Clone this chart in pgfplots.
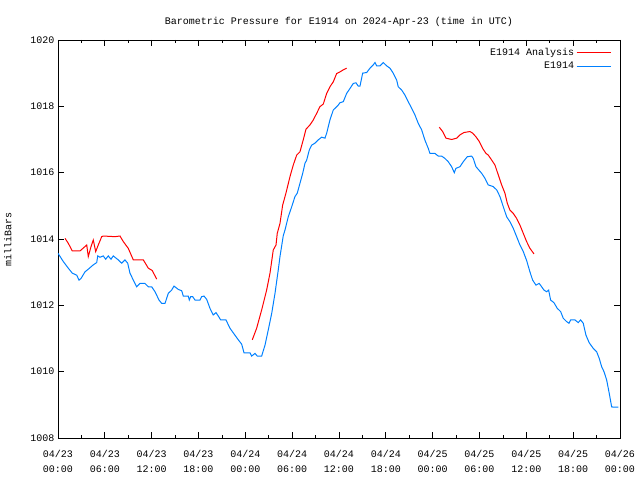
\documentclass[border=0pt]{standalone}
\usepackage{pgfplots}
\pgfplotsset{compat=1.18}
\usepackage{fontspec}
\setmainfont{Liberation Mono}
\definecolor{obsblue}{RGB}{0,128,255}

\begin{document}
\fontsize{10}{11}\selectfont
\begin{tikzpicture}
	\path[use as bounding box] (-58pt,-42pt) rectangle (582pt,438pt);
	\begin{axis}[
		at={(0,0)}, anchor=south west,
		scale only axis,
		width=562pt,
		height=398pt,
		xmin=0, xmax=72,
		ymin=1008, ymax=1020,
		xtick={0,6,...,72},
		xticklabels={04/23\\00:00,04/23\\06:00,04/23\\12:00,04/23\\18:00,04/24\\00:00,04/24\\06:00,04/24\\12:00,04/24\\18:00,04/25\\00:00,04/25\\06:00,04/25\\12:00,04/25\\18:00,04/26\\00:00},
		minor x tick num=1,
		ytick={1008,1010,...,1020},
		tick align=inside,
		major tick length=6pt,
		minor tick length=3pt,
		tick style={black, line width=0.8pt},
		axis line style={line width=0.8pt},
		x tick label style={align=center, font=\fontsize{10}{15}\selectfont, yshift=-9pt},
		y tick label style={font=\fontsize{10}{11}\selectfont},
		/pgf/number format/assume math mode=true,
		/pgf/number format/1000 sep={},
		title={Barometric Pressure for E1914 on 2024-Apr-23 (time in UTC)},
		title style={font=\fontsize{10}{11}\selectfont, yshift=4pt},
		ylabel={milliBars},
		ylabel style={font=\fontsize{10}{11}\selectfont, yshift=12pt},
		unbounded coords=jump,
		legend plot pos=right,
		legend cell align=right,
		legend style={draw=none, fill=none, at={(0.99,0.99)}, anchor=north east,
			font=\fontsize{10}{11}\selectfont, row sep=1pt},
	]
	\addplot[red, line width=1pt,
		legend image code/.code={\draw[red, line width=1pt] (0pt,0pt) -- (34pt,0pt);}] coordinates {
		(0.90,1014.02) (1.32,1013.87) (1.83,1013.64) (2.82,1013.64) (3.68,1013.82) (3.88,1013.47)
		(4.23,1013.77) (4.52,1013.97) (4.83,1013.62) (5.16,1013.82) (5.60,1014.07) (5.80,1014.09)
		(7.30,1014.07) (7.94,1014.09) (8.37,1013.92) (9.00,1013.72) (9.65,1013.37) (10.93,1013.37)
		(11.57,1013.12) (12.08,1013.05) (12.64,1012.79)
		(18.0,nan)
		(24.89,1010.96) (25.45,1011.31) (26.09,1011.86) (26.73,1012.46) (27.16,1012.97) (27.58,1013.67)
		(27.93,1013.82) (28.09,1014.17) (28.44,1014.47) (28.78,1015.02) (29.20,1015.38) (29.72,1015.88)
		(30.14,1016.23) (30.58,1016.53) (31.00,1016.63) (31.42,1016.99) (31.77,1017.31) (32.28,1017.44)
		(32.71,1017.59) (33.14,1017.79) (33.56,1017.99) (33.99,1018.07) (34.42,1018.39) (34.84,1018.59)
		(35.27,1018.74) (35.70,1018.99) (36.13,1019.04) (36.55,1019.10) (36.98,1019.15)
		(42.0,nan)
		(48.85,1017.37) (49.28,1017.24) (49.71,1017.04) (50.43,1017.00) (51.07,1017.04) (51.50,1017.14)
		(52.01,1017.21) (52.78,1017.24) (53.13,1017.19) (53.55,1017.08) (53.97,1016.94) (54.41,1016.73)
		(54.83,1016.58) (55.12,1016.53) (55.56,1016.38) (55.98,1016.23) (56.41,1015.93) (56.84,1015.63)
		(57.26,1015.38) (57.56,1015.08) (57.90,1014.87) (58.33,1014.77) (58.76,1014.62) (59.18,1014.42)
		(59.61,1014.17) (60.04,1013.92) (60.46,1013.72) (60.98,1013.55)
	};
	\addlegendentry{E1914 Analysis}
	\addplot[obsblue, line width=1pt,
		legend image code/.code={\draw[obsblue, line width=1pt] (0pt,0pt) -- (34pt,0pt);}] coordinates {
		(0.00,1013.57) (0.68,1013.32) (1.32,1013.12) (1.83,1012.97) (2.40,1012.91) (2.69,1012.76)
		(2.95,1012.81) (3.46,1013.01) (3.88,1013.09) (4.52,1013.22) (4.96,1013.29) (5.09,1013.49)
		(5.38,1013.45) (5.80,1013.49) (6.11,1013.39) (6.44,1013.49) (6.79,1013.39) (7.08,1013.49)
		(7.72,1013.37) (8.16,1013.27) (8.58,1013.37) (8.93,1013.27) (9.22,1012.97) (9.65,1012.76)
		(10.08,1012.56) (10.50,1012.66) (11.14,1012.66) (11.57,1012.56) (12.00,1012.56) (12.43,1012.41)
		(12.94,1012.16) (13.28,1012.06) (13.71,1012.06) (14.13,1012.36) (14.56,1012.46) (14.86,1012.58)
		(15.41,1012.48) (15.85,1012.44) (16.05,1012.28) (16.69,1012.28) (16.82,1012.16) (17.00,1012.26)
		(17.26,1012.26) (17.55,1012.16) (18.19,1012.16) (18.41,1012.26) (18.70,1012.28) (19.05,1012.18)
		(19.47,1011.91) (19.89,1011.71) (20.24,1011.78) (20.53,1011.68) (20.84,1011.56) (21.52,1011.56)
		(22.03,1011.31) (22.67,1011.10) (23.10,1010.96) (23.53,1010.83) (23.83,1010.57) (24.60,1010.57)
		(24.81,1010.47) (25.24,1010.55) (25.53,1010.47) (26.09,1010.47) (26.52,1010.80) (26.94,1011.26)
		(27.38,1011.76) (27.80,1012.36) (28.22,1013.07) (28.44,1013.47) (28.86,1014.10) (29.08,1014.27)
		(29.50,1014.67) (29.94,1014.97) (30.36,1015.28) (30.65,1015.38) (31.00,1015.68) (31.35,1015.98)
		(31.64,1016.28) (31.86,1016.38) (32.19,1016.68) (32.50,1016.83) (32.92,1016.89) (33.35,1016.99)
		(33.78,1017.07) (34.20,1017.04) (34.42,1017.19) (34.84,1017.59) (35.27,1017.89) (35.70,1017.99)
		(35.91,1018.04) (36.13,1018.11) (36.55,1018.14) (36.98,1018.39) (37.41,1018.54) (37.83,1018.69)
		(38.17,1018.71) (38.47,1018.61) (38.69,1018.61) (39.03,1019.00) (39.55,1019.02) (39.97,1019.15)
		(40.39,1019.25) (40.61,1019.32) (40.83,1019.22) (41.25,1019.22) (41.67,1019.32) (42.11,1019.22)
		(42.53,1019.15) (42.95,1019.00) (43.39,1018.79) (43.59,1018.59) (44.03,1018.49) (44.45,1018.34)
		(44.87,1018.14) (45.31,1017.94) (45.73,1017.74) (46.15,1017.49) (46.59,1017.29) (47.01,1016.98)
		(47.44,1016.73) (47.65,1016.58) (48.29,1016.58) (48.72,1016.50) (49.15,1016.50) (49.57,1016.43)
		(50.00,1016.33) (50.43,1016.18) (50.77,1016.00) (50.98,1016.13) (51.50,1016.18) (51.92,1016.33)
		(52.43,1016.48) (52.99,1016.50) (53.20,1016.43) (53.55,1016.18) (53.84,1016.10) (54.28,1015.98)
		(54.70,1015.83) (55.12,1015.63) (55.76,1015.58) (56.20,1015.48) (56.62,1015.28) (57.05,1014.97)
		(57.48,1014.67) (57.90,1014.52) (58.33,1014.32) (58.76,1014.07) (59.18,1013.82) (59.61,1013.62)
		(60.04,1013.35) (60.46,1013.01) (60.81,1012.76) (61.23,1012.61) (61.65,1012.66) (61.96,1012.56)
		(62.26,1012.46) (62.60,1012.41) (62.86,1012.46) (63.11,1012.16) (63.54,1012.08) (63.96,1011.91)
		(64.40,1011.81) (64.73,1011.61) (65.16,1011.51) (65.46,1011.46) (65.68,1011.56) (66.23,1011.56)
		(66.65,1011.48) (66.96,1011.56) (67.29,1011.46) (67.64,1011.10) (68.06,1010.87) (68.58,1010.70)
		(69.01,1010.60) (69.34,1010.40) (69.65,1010.15) (69.95,1010.00) (70.29,1009.75) (70.62,1009.35)
		(70.93,1008.94) (71.14,1008.93) (71.78,1008.93)
	};
	\addlegendentry{E1914}
	\end{axis}
\end{tikzpicture}
\end{document}
